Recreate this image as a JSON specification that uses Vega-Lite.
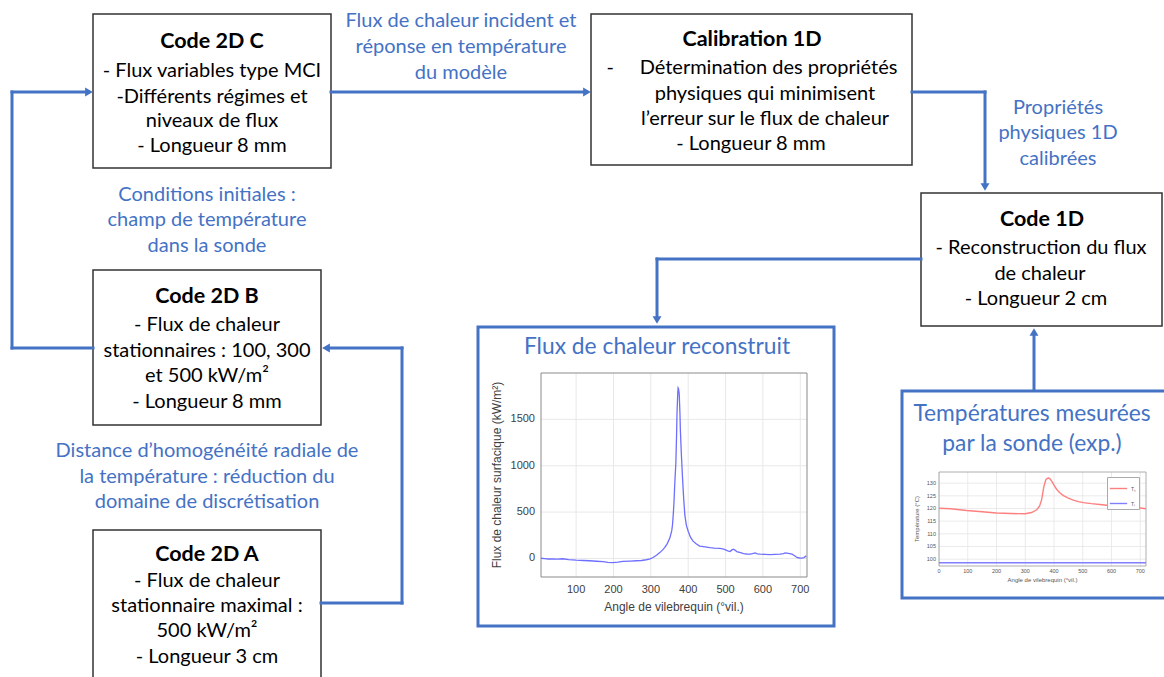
{
  "$schema": "https://vega.github.io/schema/vega-lite/v6.json",
  "width": 1164,
  "height": 677,
  "padding": 0,
  "autosize": {"type": "none"},
  "background": "white",
  "config": {"view": {"stroke": null}, "font": "Lato"},
  "resolve": {
    "scale": {"x": "independent", "y": "independent", "color": "independent", "shape": "independent"},
    "axis": {"x": "independent", "y": "independent"}
  },
  "layer": [
    {
      "encoding": {
        "x": {"field": "x", "type": "quantitative", "scale": {"domain": [0, 1164], "nice": false, "zero": false}, "axis": null},
        "y": {"field": "y", "type": "quantitative", "scale": {"domain": [0, 677], "reverse": true, "nice": false, "zero": false}, "axis": null}
      },
      "layer": [
        {
          "data": {"values": [
            {"name": "Flux de chaleur reconstruit", "x": 478, "y": 327, "x2": 834, "y2": 626},
            {"name": "Températures mesurées", "x": 902, "y": 391, "x2": 1180, "y2": 598}
          ]},
          "mark": {"type": "rect", "fill": "white", "stroke": "#4472C4", "strokeWidth": 3},
          "encoding": {"x2": {"field": "x2"}, "y2": {"field": "y2"}}
        },
        {
          "data": {"values": [
            {"name": "Code 2D C", "x": 93, "y": 14, "x2": 331, "y2": 168},
            {"name": "Calibration 1D", "x": 591, "y": 14, "x2": 912, "y2": 165},
            {"name": "Code 1D", "x": 921, "y": 193, "x2": 1162, "y2": 326},
            {"name": "Code 2D B", "x": 93, "y": 270, "x2": 321, "y2": 425},
            {"name": "Code 2D A", "x": 93, "y": 530, "x2": 321, "y2": 700}
          ]},
          "mark": {"type": "rect", "fill": "white", "stroke": "#333333", "strokeWidth": 1.5},
          "encoding": {"x2": {"field": "x2"}, "y2": {"field": "y2"}}
        },
        {
          "data": {"values": [
            {"x": 331, "y": 92, "x2": 585, "y2": 92},
            {"x": 912, "y": 92, "x2": 985, "y2": 92},
            {"x": 985, "y": 92, "x2": 985, "y2": 184},
            {"x": 921, "y": 259, "x2": 657, "y2": 259},
            {"x": 657, "y": 259, "x2": 657, "y2": 316},
            {"x": 1034, "y": 390, "x2": 1034, "y2": 336},
            {"x": 93, "y": 348, "x2": 12, "y2": 348},
            {"x": 12, "y": 348, "x2": 12, "y2": 92},
            {"x": 12, "y": 92, "x2": 86, "y2": 92},
            {"x": 321, "y": 603, "x2": 402, "y2": 603},
            {"x": 402, "y": 603, "x2": 402, "y2": 348},
            {"x": 402, "y": 348, "x2": 330, "y2": 348}
          ]},
          "mark": {"type": "rule", "color": "#4472C4", "strokeWidth": 3, "strokeCap": "square"},
          "encoding": {"x2": {"field": "x2"}, "y2": {"field": "y2"}}
        },
        {
          "data": {"values": [
            {"x": 587, "y": 92, "dir": "right"},
            {"x": 985, "y": 187, "dir": "down"},
            {"x": 657, "y": 320, "dir": "down"},
            {"x": 1034, "y": 332, "dir": "up"},
            {"x": 89, "y": 92, "dir": "right"},
            {"x": 326, "y": 348, "dir": "left"}
          ]},
          "mark": {"type": "point", "filled": true, "color": "#4472C4", "size": 80, "opacity": 1},
          "encoding": {
            "shape": {"field": "dir", "type": "nominal", "legend": null,
              "scale": {"domain": ["right", "down", "up", "left"], "range": ["triangle-right", "triangle-down", "triangle-up", "triangle-left"]}}
          }
        },
        {
          "data": {"values": [
            {"x": 212, "y": 42, "t": "Code 2D C"},
            {"x": 752, "y": 40, "t": "Calibration 1D"},
            {"x": 1042, "y": 220, "t": "Code 1D"},
            {"x": 207, "y": 297, "t": "Code 2D B"},
            {"x": 207, "y": 555, "t": "Code 2D A"}
          ]},
          "mark": {"type": "text", "font": "Lato", "fontSize": 21.5, "fontWeight": "bold", "color": "#000000", "baseline": "middle", "align": "center"},
          "encoding": {"text": {"field": "t"}}
        },
        {
          "data": {"values": [
            {"x": 212, "y": 71, "t": "- Flux variables type MCI"},
            {"x": 212, "y": 97, "t": "-Différents régimes et"},
            {"x": 212, "y": 121, "t": "niveaux de flux"},
            {"x": 212, "y": 146, "t": "- Longueur 8 mm"},
            {"x": 752, "y": 68, "t": "-\u00a0\u00a0\u00a0\u00a0\u00a0Détermination des propriétés"},
            {"x": 765, "y": 94, "t": "physiques qui minimisent"},
            {"x": 765, "y": 119, "t": "l’erreur sur le flux de chaleur"},
            {"x": 751, "y": 144, "t": "- Longueur 8 mm"},
            {"x": 1041, "y": 248, "t": "- Reconstruction du flux"},
            {"x": 1040, "y": 274, "t": "de chaleur"},
            {"x": 1036, "y": 299, "t": "- Longueur 2 cm"},
            {"x": 207, "y": 325, "t": "- Flux de chaleur"},
            {"x": 207, "y": 351, "t": "stationnaires : 100, 300"},
            {"x": 207, "y": 376, "t": "et 500 kW/m²"},
            {"x": 207, "y": 402, "t": "- Longueur 8 mm"},
            {"x": 207, "y": 581, "t": "- Flux de chaleur"},
            {"x": 207, "y": 606, "t": "stationnaire maximal :"},
            {"x": 207, "y": 631, "t": "500 kW/m²"},
            {"x": 207, "y": 657, "t": "- Longueur 3 cm"}
          ]},
          "mark": {"type": "text", "font": "Lato", "fontSize": 20, "color": "#000000", "baseline": "middle", "align": "center"},
          "encoding": {"text": {"field": "t"}}
        },
        {
          "data": {"values": [
            {"x": 461, "y": 21, "t": "Flux de chaleur incident et"},
            {"x": 461, "y": 47, "t": "réponse en température"},
            {"x": 461, "y": 73, "t": "du modèle"},
            {"x": 1058, "y": 108, "t": "Propriétés"},
            {"x": 1058, "y": 133, "t": "physiques 1D"},
            {"x": 1058, "y": 159, "t": "calibrées"},
            {"x": 207, "y": 195, "t": "Conditions initiales :"},
            {"x": 207, "y": 220, "t": "champ de température"},
            {"x": 207, "y": 246, "t": "dans la sonde"},
            {"x": 207, "y": 451, "t": "Distance d’homogénéité radiale de"},
            {"x": 207, "y": 477, "t": "la température : réduction du"},
            {"x": 207, "y": 502, "t": "domaine de discrétisation"}
          ]},
          "mark": {"type": "text", "font": "Lato", "fontSize": 20, "color": "#4472C4", "baseline": "middle", "align": "center"},
          "encoding": {"text": {"field": "t"}}
        },
        {
          "data": {"values": [
            {"x": 657, "y": 347, "t": "Flux de chaleur reconstruit"},
            {"x": 1032, "y": 414, "t": "Températures mesurées"},
            {"x": 1032, "y": 444, "t": "par la sonde (exp.)"}
          ]},
          "mark": {"type": "text", "font": "Lato", "fontSize": 22.8, "color": "#4472C4", "baseline": "middle", "align": "center"},
          "encoding": {"text": {"field": "t"}}
        }
      ]
    },
    {
      "layer": [
        {
          "data": {"values": [{"angle": 100}, {"angle": 200}, {"angle": 300}, {"angle": 400}, {"angle": 500}, {"angle": 600}, {"angle": 700}]},
          "layer": [
            {
              "mark": {"type": "rule", "color": "#e8e8e8", "strokeWidth": 1},
              "encoding": {
                "x": {"field": "angle", "type": "quantitative", "scale": {"domain": [6, 718], "range": [541, 807], "nice": false, "zero": false}, "axis": null},
                "y": {"datum": -200, "type": "quantitative", "scale": {"domain": [-200, 2000], "range": [577, 373], "nice": false, "zero": false}, "axis": null},
                "y2": {"datum": 2000}
              }
            },
            {
              "mark": {"type": "text", "font": "Liberation Sans", "fontSize": 11, "color": "#404040", "baseline": "top", "align": "center", "dy": 7},
              "encoding": {
                "x": {"field": "angle", "type": "quantitative", "scale": {"domain": [6, 718], "range": [541, 807], "nice": false, "zero": false}, "axis": null},
                "y": {"datum": -200, "type": "quantitative", "scale": {"domain": [-200, 2000], "range": [577, 373], "nice": false, "zero": false}, "axis": null},
                "text": {"field": "angle"}
              }
            }
          ]
        },
        {
          "data": {"values": [{"flux": 0}, {"flux": 500}, {"flux": 1000}, {"flux": 1500}]},
          "layer": [
            {
              "mark": {"type": "rule", "color": "#e8e8e8", "strokeWidth": 1},
              "encoding": {
                "y": {"field": "flux", "type": "quantitative", "scale": {"domain": [-200, 2000], "range": [577, 373], "nice": false, "zero": false}, "axis": null},
                "x": {"datum": 6, "type": "quantitative", "scale": {"domain": [6, 718], "range": [541, 807], "nice": false, "zero": false}, "axis": null},
                "x2": {"datum": 718}
              }
            },
            {
              "mark": {"type": "text", "font": "Liberation Sans", "fontSize": 11, "color": "#404040", "baseline": "middle", "align": "right", "dx": -6},
              "encoding": {
                "y": {"field": "flux", "type": "quantitative", "scale": {"domain": [-200, 2000], "range": [577, 373], "nice": false, "zero": false}, "axis": null},
                "x": {"datum": 6, "type": "quantitative", "scale": {"domain": [6, 718], "range": [541, 807], "nice": false, "zero": false}, "axis": null},
                "text": {"field": "flux"}
              }
            }
          ]
        },
        {
          "data": {"values": [{"title": "Angle de vilebrequin (°vil.)"}]},
          "mark": {"type": "text", "font": "Liberation Sans", "fontSize": 12, "color": "#404040", "baseline": "middle", "align": "center", "dy": 30},
          "encoding": {
            "x": {"datum": 362, "type": "quantitative", "scale": {"domain": [6, 718], "range": [541, 807], "nice": false, "zero": false}, "axis": null},
            "y": {"datum": -200, "type": "quantitative", "scale": {"domain": [-200, 2000], "range": [577, 373], "nice": false, "zero": false}, "axis": null},
            "text": {"field": "title"}
          }
        },
        {
          "data": {"values": [{"title": "Flux de chaleur surfacique (kW/m²)"}]},
          "mark": {"type": "text", "font": "Liberation Sans", "fontSize": 12, "color": "#404040", "baseline": "middle", "align": "center", "angle": 270, "dy": -44},
          "encoding": {
            "x": {"datum": 6, "type": "quantitative", "scale": {"domain": [6, 718], "range": [541, 807], "nice": false, "zero": false}, "axis": null},
            "y": {"datum": 900, "type": "quantitative", "scale": {"domain": [-200, 2000], "range": [577, 373], "nice": false, "zero": false}, "axis": null},
            "text": {"field": "title"}
          }
        },
        {
          "data": {"values": [{}]},
          "mark": {"type": "rect", "fill": null, "stroke": "#8a8a8a", "strokeWidth": 1},
          "encoding": {
            "x": {"datum": 6, "type": "quantitative", "scale": {"domain": [6, 718], "range": [541, 807], "nice": false, "zero": false}, "axis": null},
            "x2": {"datum": 718},
            "y": {"datum": -200, "type": "quantitative", "scale": {"domain": [-200, 2000], "range": [577, 373], "nice": false, "zero": false}, "axis": null},
            "y2": {"datum": 2000}
          }
        },
        {
          "data": {"values": [
            {"a": 6, "q": 2}, {"a": 15, "q": -2}, {"a": 25, "q": -6}, {"a": 37, "q": -5}, {"a": 50, "q": -8}, {"a": 64, "q": -3},
            {"a": 80, "q": -12}, {"a": 100, "q": -18}, {"a": 120, "q": -22}, {"a": 136, "q": -25}, {"a": 155, "q": -30}, {"a": 172, "q": -35},
            {"a": 185, "q": -42}, {"a": 199, "q": -46}, {"a": 212, "q": -40}, {"a": 225, "q": -32}, {"a": 245, "q": -28}, {"a": 261, "q": -25},
            {"a": 275, "q": -22}, {"a": 288, "q": -14}, {"a": 298, "q": -5}, {"a": 306, "q": 10}, {"a": 315, "q": 35}, {"a": 324, "q": 63},
            {"a": 331, "q": 90}, {"a": 337, "q": 116}, {"a": 344, "q": 160}, {"a": 351, "q": 222}, {"a": 356, "q": 300}, {"a": 358, "q": 363},
            {"a": 360, "q": 470}, {"a": 362, "q": 610}, {"a": 364, "q": 800}, {"a": 367, "q": 1034}, {"a": 369, "q": 1350}, {"a": 370, "q": 1563},
            {"a": 372, "q": 1780}, {"a": 373, "q": 1838}, {"a": 374, "q": 1830}, {"a": 376, "q": 1775}, {"a": 378, "q": 1550}, {"a": 379, "q": 1387},
            {"a": 382, "q": 1100}, {"a": 385, "q": 857}, {"a": 388, "q": 640}, {"a": 391, "q": 469}, {"a": 395, "q": 360}, {"a": 400, "q": 293},
            {"a": 406, "q": 230}, {"a": 413, "q": 187}, {"a": 422, "q": 155}, {"a": 431, "q": 134}, {"a": 445, "q": 125}, {"a": 458, "q": 116},
            {"a": 470, "q": 112}, {"a": 485, "q": 109}, {"a": 495, "q": 100}, {"a": 503, "q": 88}, {"a": 508, "q": 78}, {"a": 512, "q": 74},
            {"a": 517, "q": 92}, {"a": 521, "q": 99}, {"a": 525, "q": 90}, {"a": 530, "q": 74}, {"a": 540, "q": 62}, {"a": 548, "q": 53},
            {"a": 557, "q": 48}, {"a": 566, "q": 46}, {"a": 572, "q": 52}, {"a": 579, "q": 60}, {"a": 585, "q": 50}, {"a": 593, "q": 46},
            {"a": 605, "q": 44}, {"a": 619, "q": 42}, {"a": 632, "q": 44}, {"a": 646, "q": 46}, {"a": 655, "q": 52}, {"a": 660, "q": 60},
            {"a": 668, "q": 55}, {"a": 678, "q": 46}, {"a": 685, "q": 30}, {"a": 691, "q": 11}, {"a": 698, "q": 5}, {"a": 704, "q": 4},
            {"a": 710, "q": 10}, {"a": 716, "q": 28}
          ]},
          "mark": {"type": "line", "color": "#6f6fff", "strokeWidth": 1.3},
          "encoding": {
            "x": {"field": "a", "type": "quantitative", "scale": {"domain": [6, 718], "range": [541, 807], "nice": false, "zero": false}, "axis": null},
            "y": {"field": "q", "type": "quantitative", "scale": {"domain": [-200, 2000], "range": [577, 373], "nice": false, "zero": false}, "axis": null}
          }
        }
      ]
    },
    {
      "layer": [
        {
          "data": {"values": [{"angle": 0}, {"angle": 100}, {"angle": 200}, {"angle": 300}, {"angle": 400}, {"angle": 500}, {"angle": 600}, {"angle": 700}]},
          "layer": [
            {
              "mark": {"type": "rule", "color": "#e6e6e6", "strokeWidth": 0.8},
              "encoding": {
                "x": {"field": "angle", "type": "quantitative", "scale": {"domain": [0, 720], "range": [939, 1146], "nice": false, "zero": false}, "axis": null},
                "y": {"datum": 97.3, "type": "quantitative", "scale": {"domain": [97.3, 134.4], "range": [566, 472], "nice": false, "zero": false}, "axis": null},
                "y2": {"datum": 134.4}
              }
            },
            {
              "mark": {"type": "text", "font": "Liberation Sans", "fontSize": 5.5, "color": "#555555", "baseline": "top", "align": "center", "dy": 3},
              "encoding": {
                "x": {"field": "angle", "type": "quantitative", "scale": {"domain": [0, 720], "range": [939, 1146], "nice": false, "zero": false}, "axis": null},
                "y": {"datum": 97.3, "type": "quantitative", "scale": {"domain": [97.3, 134.4], "range": [566, 472], "nice": false, "zero": false}, "axis": null},
                "text": {"field": "angle"}
              }
            }
          ]
        },
        {
          "data": {"values": [{"temp": 100}, {"temp": 105}, {"temp": 110}, {"temp": 115}, {"temp": 120}, {"temp": 125}, {"temp": 130}]},
          "layer": [
            {
              "mark": {"type": "rule", "color": "#e6e6e6", "strokeWidth": 0.8},
              "encoding": {
                "y": {"field": "temp", "type": "quantitative", "scale": {"domain": [97.3, 134.4], "range": [566, 472], "nice": false, "zero": false}, "axis": null},
                "x": {"datum": 0, "type": "quantitative", "scale": {"domain": [0, 720], "range": [939, 1146], "nice": false, "zero": false}, "axis": null},
                "x2": {"datum": 720}
              }
            },
            {
              "mark": {"type": "text", "font": "Liberation Sans", "fontSize": 5.5, "color": "#555555", "baseline": "middle", "align": "right", "dx": -3},
              "encoding": {
                "y": {"field": "temp", "type": "quantitative", "scale": {"domain": [97.3, 134.4], "range": [566, 472], "nice": false, "zero": false}, "axis": null},
                "x": {"datum": 0, "type": "quantitative", "scale": {"domain": [0, 720], "range": [939, 1146], "nice": false, "zero": false}, "axis": null},
                "text": {"field": "temp"}
              }
            }
          ]
        },
        {
          "data": {"values": [{"title": "Angle de vilebrequin (°vil.)"}]},
          "mark": {"type": "text", "font": "Liberation Sans", "fontSize": 6, "color": "#555555", "baseline": "middle", "align": "center", "dy": 14},
          "encoding": {
            "x": {"datum": 360, "type": "quantitative", "scale": {"domain": [0, 720], "range": [939, 1146], "nice": false, "zero": false}, "axis": null},
            "y": {"datum": 97.3, "type": "quantitative", "scale": {"domain": [97.3, 134.4], "range": [566, 472], "nice": false, "zero": false}, "axis": null},
            "text": {"field": "title"}
          }
        },
        {
          "data": {"values": [{"title": "Température (°C)"}]},
          "mark": {"type": "text", "font": "Liberation Sans", "fontSize": 6, "color": "#555555", "baseline": "middle", "align": "center", "angle": 270, "dy": -22},
          "encoding": {
            "x": {"datum": 0, "type": "quantitative", "scale": {"domain": [0, 720], "range": [939, 1146], "nice": false, "zero": false}, "axis": null},
            "y": {"datum": 115.85, "type": "quantitative", "scale": {"domain": [97.3, 134.4], "range": [566, 472], "nice": false, "zero": false}, "axis": null},
            "text": {"field": "title"}
          }
        },
        {
          "data": {"values": [{}]},
          "mark": {"type": "rect", "fill": null, "stroke": "#9a9a9a", "strokeWidth": 0.8},
          "encoding": {
            "x": {"datum": 0, "type": "quantitative", "scale": {"domain": [0, 720], "range": [939, 1146], "nice": false, "zero": false}, "axis": null},
            "x2": {"datum": 720},
            "y": {"datum": 97.3, "type": "quantitative", "scale": {"domain": [97.3, 134.4], "range": [566, 472], "nice": false, "zero": false}, "axis": null},
            "y2": {"datum": 134.4}
          }
        },
        {
          "data": {"values": [
            {"s": "Tₛ", "a": 0, "T": 120.1}, {"s": "Tₛ", "a": 40, "T": 119.9}, {"s": "Tₛ", "a": 96, "T": 119.2}, {"s": "Tₛ", "a": 150, "T": 118.7},
            {"s": "Tₛ", "a": 200, "T": 118.2}, {"s": "Tₛ", "a": 250, "T": 118.0}, {"s": "Tₛ", "a": 300, "T": 117.9}, {"s": "Tₛ", "a": 322, "T": 118.4},
            {"s": "Tₛ", "a": 340, "T": 119.5}, {"s": "Tₛ", "a": 350, "T": 121.0}, {"s": "Tₛ", "a": 357, "T": 123.5}, {"s": "Tₛ", "a": 365, "T": 128.8},
            {"s": "Tₛ", "a": 372, "T": 131.5}, {"s": "Tₛ", "a": 380, "T": 132.1}, {"s": "Tₛ", "a": 386, "T": 131.7}, {"s": "Tₛ", "a": 392, "T": 130.8},
            {"s": "Tₛ", "a": 400, "T": 129.2}, {"s": "Tₛ", "a": 409, "T": 127.6}, {"s": "Tₛ", "a": 420, "T": 126.2}, {"s": "Tₛ", "a": 433, "T": 125.1},
            {"s": "Tₛ", "a": 450, "T": 124.1}, {"s": "Tₛ", "a": 467, "T": 123.3}, {"s": "Tₛ", "a": 485, "T": 122.7}, {"s": "Tₛ", "a": 502, "T": 122.3},
            {"s": "Tₛ", "a": 530, "T": 121.9}, {"s": "Tₛ", "a": 560, "T": 121.6}, {"s": "Tₛ", "a": 590, "T": 121.2}, {"s": "Tₛ", "a": 619, "T": 120.9},
            {"s": "Tₛ", "a": 650, "T": 120.7}, {"s": "Tₛ", "a": 677, "T": 120.5}, {"s": "Tₛ", "a": 700, "T": 120.2}, {"s": "Tₛ", "a": 720, "T": 119.9},
            {"s": "Tₗ", "a": 0, "T": 98.6}, {"s": "Tₗ", "a": 180, "T": 98.6}, {"s": "Tₗ", "a": 360, "T": 98.6}, {"s": "Tₗ", "a": 540, "T": 98.6}, {"s": "Tₗ", "a": 720, "T": 98.6}
          ]},
          "mark": {"type": "line", "strokeWidth": 1.4},
          "encoding": {
            "x": {"field": "a", "type": "quantitative", "scale": {"domain": [0, 720], "range": [939, 1146], "nice": false, "zero": false}, "axis": null},
            "y": {"field": "T", "type": "quantitative", "scale": {"domain": [97.3, 134.4], "range": [566, 472], "nice": false, "zero": false}, "axis": null},
            "color": {"field": "s", "type": "nominal",
              "scale": {"domain": ["Tₛ", "Tₗ"], "range": ["#ff7f7f", "#7f7fff"]},
              "legend": {"orient": "none", "legendX": 1107, "legendY": 477, "title": null, "strokeColor": "#aaaaaa", "fillColor": "white", "padding": 2,
                "symbolType": "stroke", "symbolSize": 300, "symbolStrokeWidth": 1.4, "labelFont": "Liberation Sans", "labelFontSize": 5, "labelColor": "#555555",
                "rowPadding": 2, "labelOffset": 3, "direction": "vertical"}}
          }
        }
      ]
    }
  ]
}
